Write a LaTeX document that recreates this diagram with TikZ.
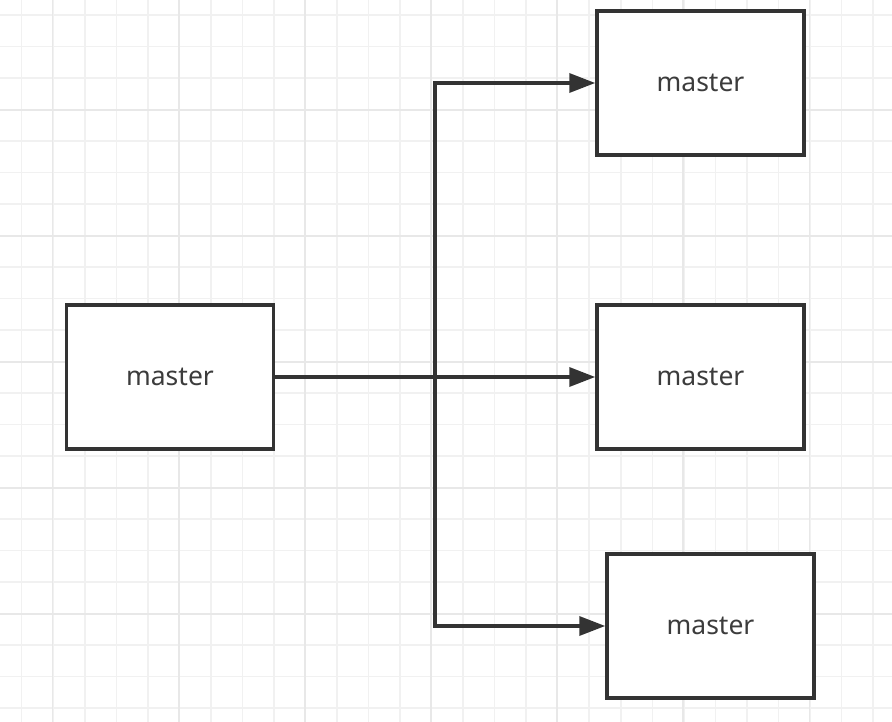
\documentclass[tikz,border=0pt]{standalone}
\usepackage{fontspec}
\setmainfont{Noto Sans}
\usetikzlibrary{arrows.meta}
\definecolor{ink}{HTML}{333333}
\definecolor{txt}{HTML}{3C3C3C}
\definecolor{gridminor}{HTML}{F1F1F1}
\definecolor{gridmajor}{HTML}{E8E8E8}
\tikzset{
  box/.style={draw=ink, line width=3.5pt, fill=white, minimum width=207pt, minimum height=144pt, inner sep=0pt, text=txt, font=\fontsize{26.5}{30}\selectfont},
  link/.style={draw=ink, line width=3.5pt, -{Triangle[length=26pt,width=19pt]}},
}
\begin{document}
\begin{tikzpicture}[x=1pt,y=-1pt]
\useasboundingbox (0,0) rectangle (892,722);
\fill[white] (0,0) rectangle (892,722);
% grid
\foreach \k in {0,...,27} {
  \draw[gridminor, line width=1.5pt] ({21.7+31.53*\k},0) -- ({21.7+31.53*\k},722);
}
\foreach \k in {0,...,22} {
  \draw[gridminor, line width=1.5pt] (0,{15+31.5*\k}) -- (892,{15+31.5*\k});
}
\foreach \k in {0,...,6} {
  \draw[gridmajor, line width=1.5pt] ({52.7+126.1*\k},0) -- ({52.7+126.1*\k},722);
}
\foreach \k in {0,...,5} {
  \draw[gridmajor, line width=1.5pt] (0,{110+126*\k}) -- (892,{110+126*\k});
}
% nodes
\node[box] (L) at (170,377) {master};
\node[box] (T) at (700.5,83) {master};
\node[box] (M) at (700.5,377) {master};
\node[box] (B) at (710.5,626) {master};
\coordinate (trunk) at (435,377);
% connectors
\draw[link] (L.east) -- (M.west);
\draw[link] (trunk) |- (T.west);
\draw[link] (trunk) |- (B.west);
\end{tikzpicture}
\end{document}
